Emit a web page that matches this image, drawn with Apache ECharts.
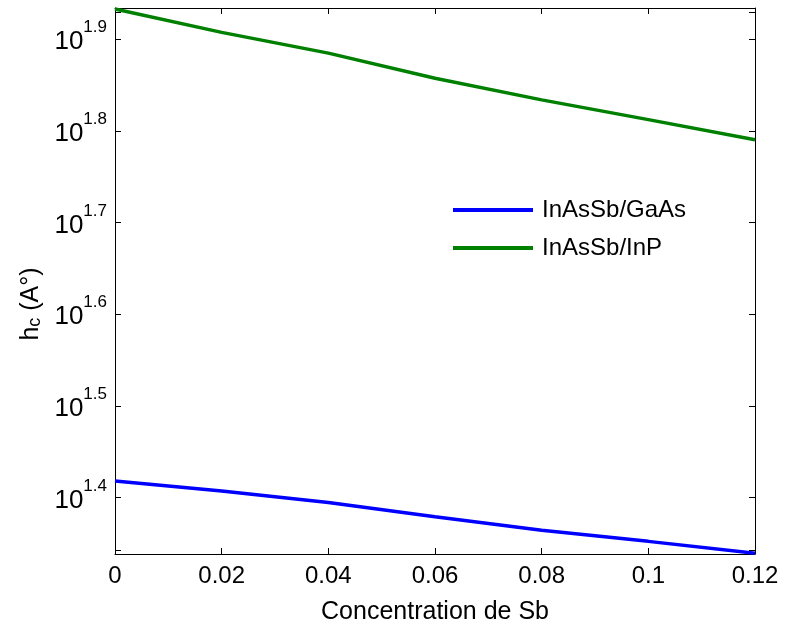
<!DOCTYPE html>
<html>
<head>
<meta charset="utf-8">
<script src="https://cdn.jsdelivr.net/npm/echarts@6/dist/echarts.min.js"></script>
<style>
  html, body { margin: 0; padding: 0; background: #fff; }
  #chart { width: 785px; height: 630px; }
</style>
</head>
<body>
<div id="chart"></div>
<script>
// Sb concentration (fraction)
var sbConcentration = [0, 0.02, 0.04, 0.06, 0.08, 0.10, 0.12];
// critical thickness h_c (Å), log scale
var hcInAsSbGaAs = [26.19, 25.54, 24.81, 23.93, 23.14, 22.50, 21.84];
var hcInAsSbInP  = [85.7, 80.8, 76.7, 72.0, 68.2, 64.9, 61.7];
// decade-fraction exponents used for the y tick labels
var yTickExponents = [1.4, 1.5, 1.6, 1.7, 1.8, 1.9];
var yMinorTicks = [22, 85];
var seriesNames = ['InAsSb/GaAs', 'InAsSb/InP'];

var FONT = '"Liberation Sans", Arial, Helvetica, sans-serif';
var yMin = Math.pow(10, 1.3384);
var yMax = Math.pow(10, 1.934);
var yTickValues = yTickExponents.map(function (e) { return Math.pow(10, e); });
var yTickAll = [yMinorTicks[0]].concat(yTickValues, [yMinorTicks[1]]);

function pairs(xs, ys) {
  return xs.map(function (x, i) { return [x, ys[i]]; });
}

var chart = echarts.init(document.getElementById('chart'), null, { renderer: 'canvas' });

var tickStyle = { show: true, inside: true, length: 6, lineStyle: { color: '#000', width: 1 } };

chart.setOption({
  animation: false,
  backgroundColor: '#fff',
  grid: { left: 115, right: 30, top: 8, bottom: 73, containLabel: false },
  legend: {
    orient: 'vertical',
    left: 448,
    top: 192,
    icon: 'rect',
    itemWidth: 80,
    itemHeight: 4,
    itemGap: 12,
    data: seriesNames,
    textStyle: { fontFamily: FONT, fontSize: 24, color: '#000', lineHeight: 26, padding: [0, 0, 0, 4] }
  },
  xAxis: [
    {
      type: 'value', position: 'bottom', min: 0, max: 0.12, interval: 0.02,
      name: 'Concentration de Sb', nameLocation: 'middle', nameGap: 46,
      nameTextStyle: { fontFamily: FONT, fontSize: 25, color: '#000' },
      axisLine: { show: true, onZero: false, lineStyle: { color: '#000', width: 1 } },
      axisTick: tickStyle,
      axisLabel: { fontFamily: FONT, fontSize: 24, color: '#000', margin: 10 },
      splitLine: { show: false }
    },
    {
      type: 'value', position: 'top', min: 0, max: 0.12, interval: 0.02,
      axisLine: { show: true, onZero: false, lineStyle: { color: '#000', width: 1 } },
      axisTick: tickStyle,
      axisLabel: { show: false },
      splitLine: { show: false }
    }
  ],
  yAxis: [
    {
      type: 'log', logBase: 10, position: 'left', min: yMin, max: yMax,
      name: '{m|h}{s|c}{m| (A°)}', nameLocation: 'middle', nameGap: 70,
      nameTextStyle: {
        fontFamily: FONT, color: '#000', padding: [0, 46, 0, 0],
        rich: {
          m: { fontFamily: FONT, fontSize: 25, color: '#000', verticalAlign: 'bottom' },
          s: { fontFamily: FONT, fontSize: 18, color: '#000', verticalAlign: 'bottom', padding: [13, 0, 0, 0] }
        }
      },
      axisLine: { show: true, onZero: false, lineStyle: { color: '#000', width: 1 } },
      axisTick: Object.assign({}, tickStyle, { customValues: yTickAll }),
      axisLabel: {
        customValues: yTickValues,
        margin: 8,
        padding: [0, 0, 4, 0],
        formatter: function (v) {
          return '{b|10}{e|' + Math.log10(v).toFixed(1) + '}';
        },
        rich: {
          b: { fontFamily: FONT, fontSize: 26, color: '#000', verticalAlign: 'bottom' },
          e: { fontFamily: FONT, fontSize: 17, color: '#000', verticalAlign: 'bottom', padding: [0, 0, 19, 0] }
        }
      },
      splitLine: { show: false }
    },
    {
      type: 'log', logBase: 10, position: 'right', min: yMin, max: yMax,
      axisLine: { show: true, onZero: false, lineStyle: { color: '#000', width: 1 } },
      axisTick: Object.assign({}, tickStyle, { customValues: yTickAll }),
      axisLabel: { show: false },
      splitLine: { show: false }
    }
  ],
  series: [
    {
      name: seriesNames[0], type: 'line', xAxisIndex: 0, yAxisIndex: 0,
      data: pairs(sbConcentration, hcInAsSbGaAs),
      showSymbol: false, symbol: 'none', smooth: false,
      lineStyle: { color: '#0000ff', width: 3.5 }, itemStyle: { color: '#0000ff' }
    },
    {
      name: seriesNames[1], type: 'line', xAxisIndex: 0, yAxisIndex: 0,
      data: pairs(sbConcentration, hcInAsSbInP),
      showSymbol: false, symbol: 'none', smooth: false,
      lineStyle: { color: '#008000', width: 3.5 }, itemStyle: { color: '#008000' }
    }
  ]
});
</script>
</body>
</html>
